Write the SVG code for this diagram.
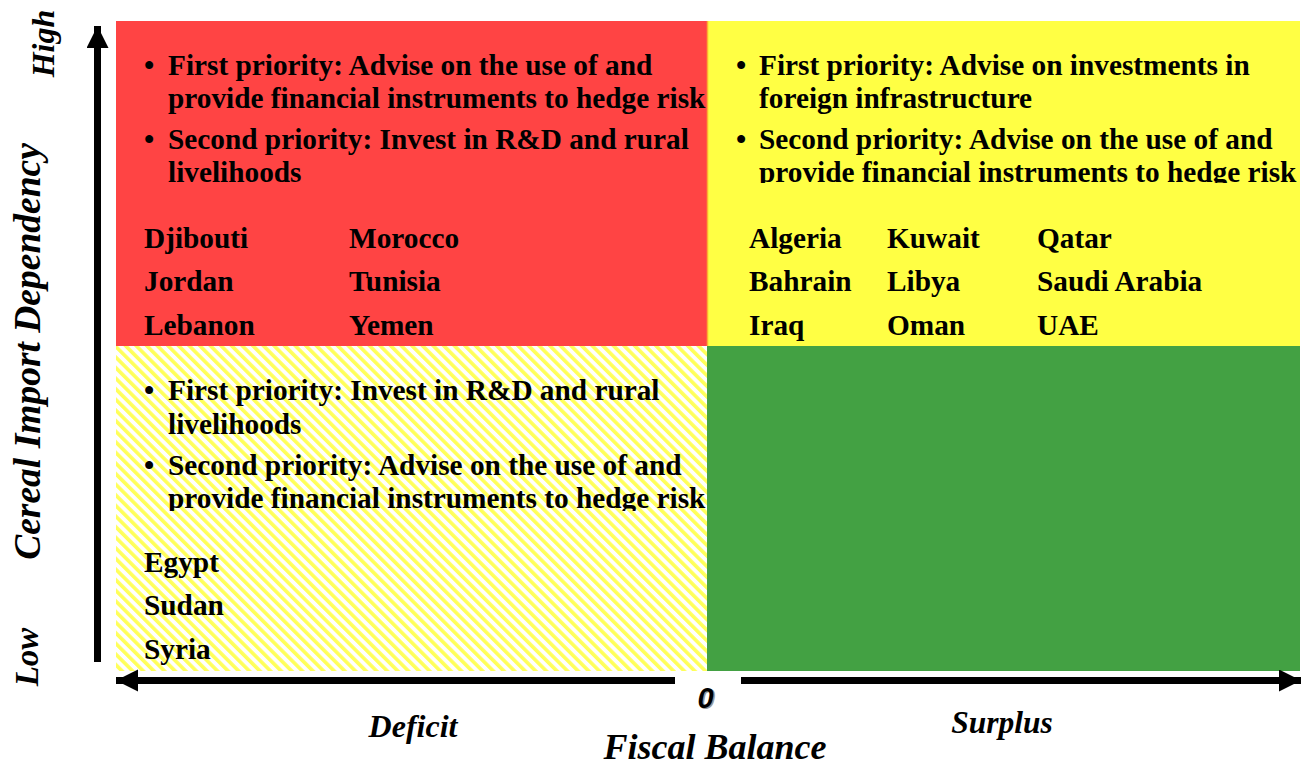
<svg xmlns="http://www.w3.org/2000/svg" width="1308" height="767" viewBox="0 0 1308 767">
<style>
.t{font-family:"Liberation Serif","Times New Roman",serif;font-weight:bold;font-size:29.3px;fill:#000}
.ax{font-family:"Liberation Serif","Times New Roman",serif;font-weight:bold;font-style:italic;fill:#000}
.zero{font-family:"Liberation Sans",Arial,sans-serif;font-weight:bold;font-style:italic;font-size:29px}
</style>
<defs>
<pattern id="hatch" patternUnits="userSpaceOnUse" width="7.5" height="10" patternTransform="rotate(-45)">
<rect width="7.5" height="10" fill="#ffffff"/>
<rect x="0" y="0" width="3.6" height="10" fill="#ffff5a"/>
</pattern>
<clipPath id="clipTR"><rect x="708" y="21" width="592" height="162"/></clipPath>
<clipPath id="clipBL"><rect x="116" y="346" width="591" height="165"/></clipPath>
<marker id="ah" markerUnits="userSpaceOnUse" markerWidth="24" markerHeight="24" refX="22" refY="11" orient="auto">
<path d="M0,0 L22,11 L0,22 Z" fill="#000"/>
</marker>
</defs>
<rect width="1308" height="767" fill="#fff"/>

<g id="q-top-left">
<rect x="116" y="21" width="591" height="325" fill="#ff4444"/>
<text class="t" x="144" y="75">•</text>
<text class="t" x="168" y="75">First priority: Advise on the use of and</text>
<text class="t" x="168" y="108">provide financial instruments to hedge risk</text>
<text class="t" x="144" y="149">•</text>
<text class="t" x="168" y="149">Second priority: Invest in R&amp;D and rural</text>
<text class="t" x="168" y="182">livelihoods</text>
<text class="t" x="144" y="248">Djibouti</text>
<text class="t" x="144" y="291">Jordan</text>
<text class="t" x="144" y="335">Lebanon</text>
<text class="t" x="349" y="248">Morocco</text>
<text class="t" x="349" y="291">Tunisia</text>
<text class="t" x="349" y="335">Yemen</text>
</g>

<g id="q-top-right">
<rect x="707" y="21" width="593" height="325" fill="#ffff44"/>
<line x1="707.5" y1="21" x2="707.5" y2="346" stroke="#ffb030" stroke-width="1.5"/>
<g clip-path="url(#clipTR)">
<text class="t" x="736" y="75">•</text>
<text class="t" x="759" y="75">First priority: Advise on investments in</text>
<text class="t" x="759" y="108">foreign infrastructure</text>
<text class="t" x="736" y="149">•</text>
<text class="t" x="759" y="149">Second priority: Advise on the use of and</text>
<text class="t" x="759" y="182">provide financial instruments to hedge risk</text>
</g>
<text class="t" x="749" y="248">Algeria</text>
<text class="t" x="749" y="291">Bahrain</text>
<text class="t" x="749" y="335">Iraq</text>
<text class="t" x="887" y="248">Kuwait</text>
<text class="t" x="887" y="291">Libya</text>
<text class="t" x="887" y="335">Oman</text>
<text class="t" x="1037" y="248">Qatar</text>
<text class="t" x="1037" y="291">Saudi Arabia</text>
<text class="t" x="1037" y="335">UAE</text>
</g>

<g id="q-bottom-left">
<rect x="116" y="346" width="591" height="325" fill="url(#hatch)"/>
<g clip-path="url(#clipBL)">
<text class="t" x="144" y="400">•</text>
<text class="t" x="168" y="400">First priority: Invest in R&amp;D and rural</text>
<text class="t" x="168" y="434">livelihoods</text>
<text class="t" x="144" y="475">•</text>
<text class="t" x="168" y="475">Second priority: Advise on the use of and</text>
<text class="t" x="168" y="508">provide financial instruments to hedge risk</text>
</g>
<text class="t" x="144" y="572">Egypt</text>
<text class="t" x="144" y="615">Sudan</text>
<text class="t" x="144" y="659">Syria</text>
</g>

<g id="q-bottom-right">
<rect x="707" y="346" width="593" height="325" fill="#43a143"/>
</g>

<g id="axes" fill="none" stroke="#000">
<line x1="97.5" y1="662" x2="97.5" y2="26" stroke-width="7" marker-end="url(#ah)"/>
<line x1="675" y1="680.5" x2="116" y2="680.5" stroke-width="7" marker-end="url(#ah)"/>
<line x1="741" y1="680.5" x2="1301" y2="680.5" stroke-width="7" marker-end="url(#ah)"/>
</g>

<g id="labels">
<text class="ax" font-size="32" transform="translate(54,43.5) rotate(-90)" text-anchor="middle">High</text>
<text class="ax" font-size="37.5" transform="translate(40,351.5) rotate(-90)" text-anchor="middle">Cereal Import Dependency</text>
<text class="ax" font-size="33" transform="translate(38,657) rotate(-90)" text-anchor="middle">Low</text>
<text class="ax" font-size="32" x="413" y="737" text-anchor="middle">Deficit</text>
<text class="ax" font-size="31.5" x="1002" y="733" text-anchor="middle">Surplus</text>
<text class="ax" font-size="36" x="715" y="759" text-anchor="middle">Fiscal Balance</text>
<text class="zero" x="707" y="709" text-anchor="middle" fill="#999">0</text>
<text class="zero" x="705.5" y="707.5" text-anchor="middle" fill="#000">0</text>
</g>
</svg>
